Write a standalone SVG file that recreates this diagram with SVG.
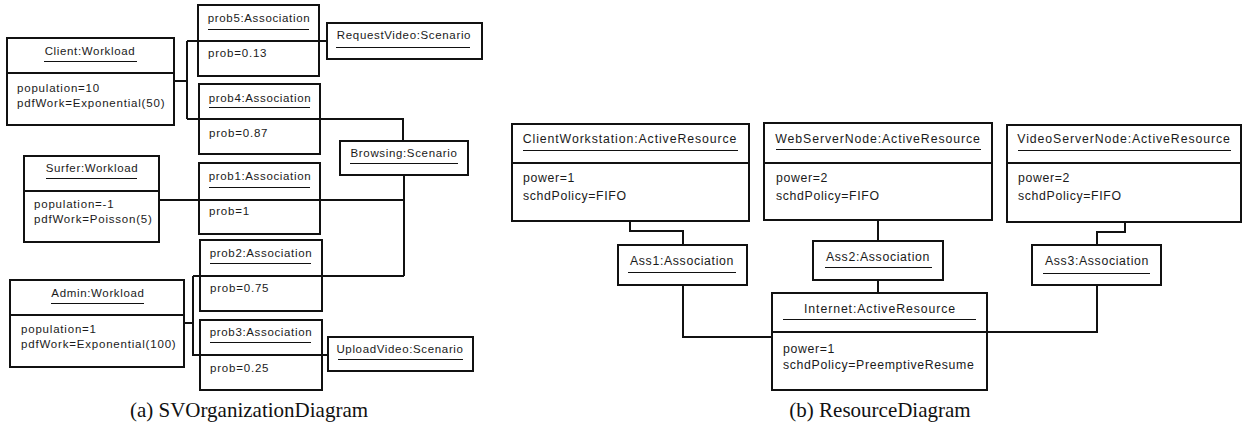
<svg xmlns="http://www.w3.org/2000/svg" width="1242" height="428" viewBox="0 0 1242 428">
  <style>
    .box { fill: #ffffff; stroke: #111111; stroke-width: 2; }
    .div { stroke: #111111; stroke-width: 2; }
    .ul { stroke: #111111; stroke-width: 1.2; }
    .t { font-family: "Liberation Sans", Arial, sans-serif; font-size: 11.5px; letter-spacing: 0.65px; fill: #1a1a1a; }
    .a { letter-spacing: 0.8px; }
    .r { font-size: 12.3px; }
    .rh { letter-spacing: 0.9px; }
    .c { text-anchor: middle; }
    .conn { fill: none; stroke: #111111; stroke-width: 2; }
    .cap { font-family: "Liberation Serif", "Times New Roman", serif; font-size: 21px; fill: #111111; text-anchor: middle; }
  </style>
  <rect width="1242" height="428" fill="#ffffff"/>

  <!-- connectors of the organization diagram -->
  <g id="connectors-a">
    <path class="conn" d="M174 81 H187 M187 41 V119 M187 41 H327 M187 119 H403 V141"/>
    <path class="conn" d="M159 200 H404 M404 175 V276 M193 276 H404"/>
    <path class="conn" d="M184 323 H193 M193 276 V355 H328"/>
  </g>

  <!-- connectors of the resource diagram -->
  <g id="connectors-b">
    <path class="conn" d="M630 221 V231 H683 V245"/>
    <path class="conn" d="M683 285 V337 H772"/>
    <path class="conn" d="M878 220 V241"/>
    <path class="conn" d="M878 280 V293"/>
    <path class="conn" d="M1125 222 V232 H1097 V245"/>
    <path class="conn" d="M1097 285 V332 H987"/>
  </g>

  <!-- workloads -->
  <g id="client">
    <rect class="box" x="7" y="38" width="167" height="87"/>
    <line class="div" x1="7" y1="73" x2="174" y2="73"/>
    <text class="t c" x="90" y="55">Client:Workload</text>
    <line class="ul" x1="44" y1="61.5" x2="137" y2="61.5"/>
    <text class="t a" x="17" y="92">population=10</text>
    <text class="t a" x="17" y="107">pdfWork=Exponential(50)</text>
  </g>
  <g id="surfer">
    <rect class="box" x="24" y="156" width="135" height="86"/>
    <line class="div" x1="24" y1="191" x2="159" y2="191"/>
    <text class="t c" x="92" y="172">Surfer:Workload</text>
    <line class="ul" x1="46" y1="178.5" x2="137" y2="178.5"/>
    <text class="t a" x="34" y="208">population=-1</text>
    <text class="t a" x="34" y="223">pdfWork=Poisson(5)</text>
  </g>
  <g id="admin">
    <rect class="box" x="10" y="280" width="174" height="87"/>
    <line class="div" x1="10" y1="315" x2="184" y2="315"/>
    <text class="t c" x="98" y="297">Admin:Workload</text>
    <line class="ul" x1="51" y1="303.5" x2="144" y2="303.5"/>
    <text class="t a" x="21" y="333">population=1</text>
    <text class="t a" x="21" y="348">pdfWork=Exponential(100)</text>
  </g>

  <!-- associations -->
  <g id="prob5">
    <rect class="box" x="198" y="5" width="121" height="71"/>
    <line class="div" x1="198" y1="41" x2="319" y2="41"/>
    <text class="t c" x="259" y="22">prob5:Association</text>
    <line class="ul" x1="208" y1="29.5" x2="309" y2="29.5"/>
    <text class="t a" x="208" y="57">prob=0.13</text>
  </g>
  <g id="prob4">
    <rect class="box" x="199" y="84" width="121" height="70"/>
    <line class="div" x1="199" y1="119" x2="320" y2="119"/>
    <text class="t c" x="260" y="102">prob4:Association</text>
    <line class="ul" x1="209" y1="107.5" x2="310" y2="107.5"/>
    <text class="t a" x="209" y="137">prob=0.87</text>
  </g>
  <g id="prob1">
    <rect class="box" x="199" y="163" width="121" height="71"/>
    <line class="div" x1="199" y1="200" x2="320" y2="200"/>
    <text class="t c" x="260" y="180">prob1:Association</text>
    <line class="ul" x1="209" y1="187.5" x2="310" y2="187.5"/>
    <text class="t a" x="209" y="215">prob=1</text>
  </g>
  <g id="prob2">
    <rect class="box" x="200" y="240" width="122" height="71"/>
    <line class="div" x1="200" y1="276" x2="322" y2="276"/>
    <text class="t c" x="261" y="257">prob2:Association</text>
    <line class="ul" x1="210" y1="263.5" x2="311" y2="263.5"/>
    <text class="t a" x="210" y="292">prob=0.75</text>
  </g>
  <g id="prob3">
    <rect class="box" x="200" y="320" width="122" height="70"/>
    <line class="div" x1="200" y1="355" x2="322" y2="355"/>
    <text class="t c" x="261" y="336">prob3:Association</text>
    <line class="ul" x1="210" y1="342.5" x2="311" y2="342.5"/>
    <text class="t a" x="210" y="372">prob=0.25</text>
  </g>

  <!-- scenarios -->
  <g id="request-video">
    <rect class="box" x="327" y="23" width="155" height="36"/>
    <text class="t c" x="404" y="39">RequestVideo:Scenario</text>
    <line class="ul" x1="336" y1="47.5" x2="470" y2="47.5"/>
  </g>
  <g id="browsing">
    <rect class="box" x="340" y="141" width="128" height="34"/>
    <text class="t c" x="404" y="157">Browsing:Scenario</text>
    <line class="ul" x1="350" y1="163.5" x2="458" y2="163.5"/>
  </g>
  <g id="upload-video">
    <rect class="box" x="328" y="337" width="145" height="34"/>
    <text class="t c" x="400" y="353">UploadVideo:Scenario</text>
    <line class="ul" x1="338" y1="359.5" x2="463" y2="359.5"/>
  </g>

  <!-- active resources -->
  <g id="client-workstation">
    <rect class="box" x="512" y="124" width="237" height="97"/>
    <line class="div" x1="512" y1="163" x2="749" y2="163"/>
    <text class="t r rh c" x="630" y="143">ClientWorkstation:ActiveResource</text>
    <line class="ul" x1="523" y1="150.5" x2="738" y2="150.5"/>
    <text class="t r" x="523" y="182">power=1</text>
    <text class="t r" x="523" y="200">schdPolicy=FIFO</text>
  </g>
  <g id="web-server-node">
    <rect class="box" x="764" y="123" width="228" height="97"/>
    <line class="div" x1="764" y1="163" x2="992" y2="163"/>
    <text class="t r rh c" x="878" y="143">WebServerNode:ActiveResource</text>
    <line class="ul" x1="776" y1="149.5" x2="981" y2="149.5"/>
    <text class="t r" x="776" y="182">power=2</text>
    <text class="t r" x="776" y="200">schdPolicy=FIFO</text>
  </g>
  <g id="video-server-node">
    <rect class="box" x="1007" y="125" width="234" height="97"/>
    <line class="div" x1="1007" y1="163" x2="1241" y2="163"/>
    <text class="t r rh c" x="1124" y="143">VideoServerNode:ActiveResource</text>
    <line class="ul" x1="1018" y1="150.5" x2="1231" y2="150.5"/>
    <text class="t r" x="1018" y="182">power=2</text>
    <text class="t r" x="1018" y="200">schdPolicy=FIFO</text>
  </g>
  <g id="internet">
    <rect class="box" x="772" y="293" width="215" height="97"/>
    <line class="div" x1="772" y1="332" x2="987" y2="332"/>
    <text class="t r rh c" x="880" y="313">Internet:ActiveResource</text>
    <line class="ul" x1="783" y1="319.5" x2="976" y2="319.5"/>
    <text class="t r" x="783" y="353">power=1</text>
    <text class="t r" x="783" y="369">schdPolicy=PreemptiveResume</text>
  </g>

  <!-- resource associations -->
  <g id="ass1">
    <rect class="box" x="618" y="245" width="129" height="40"/>
    <text class="t r c" x="682" y="265">Ass1:Association</text>
    <line class="ul" x1="628" y1="272.5" x2="736" y2="272.5"/>
  </g>
  <g id="ass2">
    <rect class="box" x="813" y="241" width="130" height="39"/>
    <text class="t r c" x="878" y="261">Ass2:Association</text>
    <line class="ul" x1="825" y1="267.5" x2="932" y2="267.5"/>
  </g>
  <g id="ass3">
    <rect class="box" x="1032" y="245" width="129" height="40"/>
    <text class="t r c" x="1097" y="265">Ass3:Association</text>
    <line class="ul" x1="1043" y1="273.5" x2="1150" y2="273.5"/>
  </g>

  <!-- captions -->
  <g id="captions">
    <text class="cap" x="249" y="417">(a) SVOrganizationDiagram</text>
    <text class="cap" x="880" y="417">(b) ResourceDiagram</text>
  </g>
</svg>
